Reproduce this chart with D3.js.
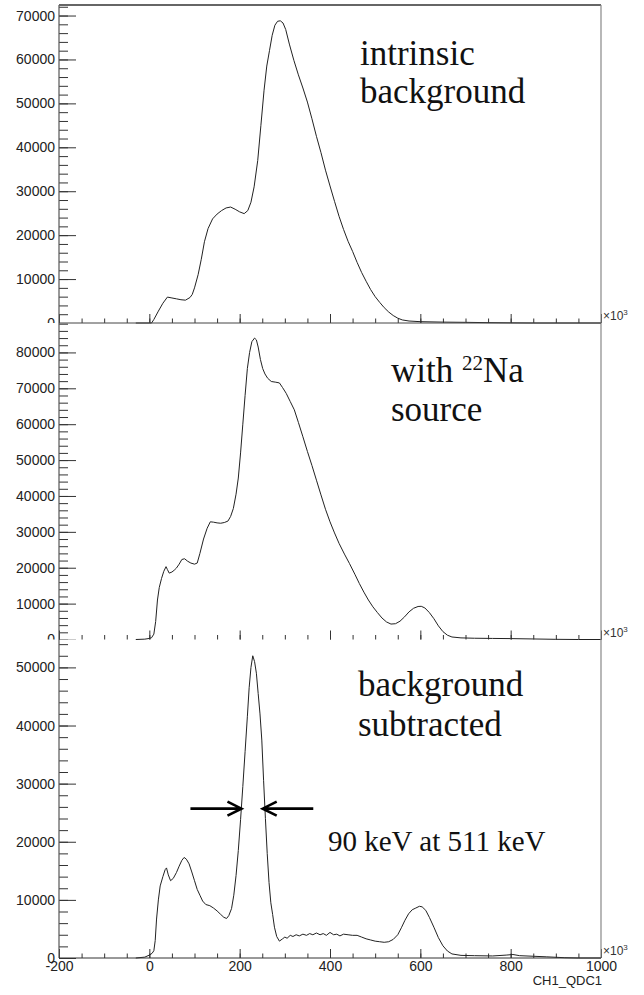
<!DOCTYPE html>
<html>
<head>
<meta charset="utf-8">
<script src="https://cdnjs.cloudflare.com/ajax/libs/d3/7.8.5/d3.min.js"></script>
<style>
  body { margin: 0; background: #fff; }
  .tick text { font-family: "Liberation Sans", Arial, sans-serif; font-size: 14px; fill: #222; }
  .tick line { stroke: #333; }
</style>
</head>
<body>
<div id="chart"></div>
<script>
// [QDC channel (x10^3), counts]
const intrinsic = [
  [-30,0],[0,0],[5,0],[10,800],[20,2700],[30,4500],[40,5900],[50,5700],[60,5500],[70,5300],[80,5200],
  [90,5800],[95,6500],[100,8000],[108,11000],[115,14500],[122,18500],[130,21500],[140,23700],[150,24800],
  [160,25600],[170,26200],[180,26400],[190,25900],[200,25300],[210,24900],[218,25600],[225,27500],
  [232,31000],[240,37000],[247,45000],[254,53000],[260,58500],[266,62000],[272,65500],[278,67800],
  [284,68700],[290,68800],[296,68300],[302,66800],[310,63500],[320,59800],[330,56500],[340,53500],
  [350,50300],[360,46500],[370,42500],[380,38800],[390,34800],[400,31200],[410,27700],[420,24300],
  [430,21300],[440,18600],[450,16300],[460,13800],[470,11500],[480,9500],[490,7600],[500,6000],
  [510,4700],[520,3500],[530,2500],[540,1700],[550,1100],[560,700],[575,450],[600,300],[650,200],
  [700,150],[750,80],[800,30],[850,0],[1000,0]
];
const withSource = [
  [-30,0],[-10,100],[0,300],[5,500],[10,1500],[14,5000],[18,11000],[22,14500],[27,17000],[32,19000],
  [37,20300],[40,19500],[44,18500],[50,18800],[55,19300],[60,19900],[66,21000],[72,22300],[78,22500],
  [85,21800],[92,21300],[100,21000],[106,21300],[112,24000],[120,28000],[128,31000],[135,32800],
  [142,32700],[150,32500],[158,32400],[166,32600],[174,33000],[180,34300],[186,36500],[192,40500],
  [197,45000],[202,52000],[207,60000],[212,68000],[217,75500],[222,80000],[227,83000],[233,84000],
  [237,83500],[241,81500],[246,78000],[251,75500],[256,74000],[262,72800],[270,71900],[280,71700],
  [288,71500],[295,70200],[303,68600],[312,66300],[321,64000],[330,60500],[340,56500],[350,52400],
  [360,48500],[370,44400],[380,40300],[390,36300],[400,32800],[410,29700],[420,26800],[432,23800],
  [443,21200],[455,18200],[465,15600],[475,13200],[485,11000],[495,9100],[505,7500],[515,6000],
  [525,4900],[535,4300],[545,4400],[555,5100],[565,6300],[575,7700],[585,8700],[595,9200],[602,9250],
  [610,8800],[620,7500],[630,5800],[640,3800],[650,2200],[660,1200],[670,700],[690,450],[720,350],
  [760,300],[800,250],[850,150],[900,50],[950,0],[1000,0]
];
const subtracted = [
  [-30,0],[-10,150],[0,500],[6,800],[10,1250],[13,3000],[16,6700],[20,10000],[24,12400],[30,14000],
  [35,15200],[38,15500],[42,14300],[47,13300],[53,13700],[60,14700],[66,15800],[72,16800],[77,17300],
  [82,17000],[88,16200],[94,14800],[100,13300],[106,11800],[112,10800],[118,9800],[125,9200],[134,9000],
  [142,8600],[150,8100],[158,7500],[165,7000],[171,6800],[176,7300],[182,8500],[187,10800],[192,14200],
  [197,18500],[202,23800],[207,29500],[212,35500],[217,41500],[221,46500],[225,50000],[229,52000],
  [233,51000],[237,49000],[241,45500],[245,42000],[249,37500],[253,30500],[257,24000],[261,18000],
  [265,13000],[269,9500],[273,7500],[277,5300],[282,3700],[288,2900],[295,3300],[300,3600],[305,3400],
  [312,3900],[318,3700],[325,4000],[332,3800],[340,4100],[348,3900],[355,4200],[362,4000],[370,4300],
  [378,4000],[385,4200],[392,3900],[400,4400],[408,4000],[415,4100],[422,3800],[430,4100],[440,4000],
  [450,3900],[460,3900],[470,3600],[480,3300],[490,3100],[500,2900],[510,2800],[520,2700],[530,2800],
  [540,3200],[550,4000],[558,5200],[566,6500],[574,7600],[582,8300],[590,8600],[598,8900],[604,8800],
  [612,8200],[620,7000],[630,5300],[640,3500],[650,2100],[660,1200],[670,700],[690,450],[720,400],
  [760,350],[790,500],[805,600],[820,400],[850,300],[880,200],[920,50],[950,0],[1000,0]
];

const series = [intrinsic, withSource, subtracted];
const yMax = [72400, 88200, 54800];
const xMajorTicks = [-200, 0, 200, 400, 600, 800, 1000];
const xTitle = "CH1_QDC1";
const fwhmLevel = 25700;          // counts, half of the 511 keV peak
const fwhmArrows = [[91, 204], [363, 251]];  // [tail, head] in QDC units
const fwhmText = "90 keV at 511 keV";

const width = 644, height = 995;
const bands = [[5, 323], [323, 639.5], [639.5, 958]];
const plotLeft = 59, plotRight = 601;

const svg = d3.select("#chart").append("svg")
  .attr("width", width)
  .attr("height", height);

const x = d3.scaleLinear().domain([-200, 1000]).range([plotLeft, plotRight]);

const line = (y) => d3.line().x(d => x(d[0])).y(d => y(d[1]));
const serif = '"Liberation Serif", "Times New Roman", serif';
const sans = '"Liberation Sans", Arial, sans-serif';

const yScales = [];

series.forEach((data, i) => {
  const [top, bottom] = bands[i];
  const y = d3.scaleLinear().domain([0, yMax[i]]).range([bottom, top]);
  yScales.push(y);
  const g = svg.append("g");

  // clip so that the "0" label is cut by the panel below (coords are in the axis group's frame)
  const clipId = "clip" + i;
  svg.append("clipPath").attr("id", clipId)
    .append("rect")
    .attr("x", -plotLeft).attr("y", top - 12)
    .attr("width", plotLeft + 30)
    .attr("height", (i < 2 ? bottom : height) - top + 12);

  // x ticks (minor every 50, major every 200), pointing up
  g.append("g")
    .attr("transform", `translate(0,${bottom})`)
    .call(d3.axisBottom(x).tickValues(d3.range(-200, 1001, 50)).tickSize(-4.5).tickFormat(""))
    .call(a => a.select(".domain").remove());
  g.append("g")
    .attr("transform", `translate(0,${bottom})`)
    .call(d3.axisBottom(x).tickValues(xMajorTicks).tickSize(-9).tickPadding(3)
      .tickFormat(i === 2 ? (d => String(d)) : ""))
    .call(a => a.select(".domain").remove());

  // y ticks (minor every 2000, major every 10000), pointing right
  const ya = g.append("g")
    .attr("transform", `translate(${plotLeft},0)`)
    .attr("clip-path", `url(#${clipId})`);
  ya.append("g")
    .call(d3.axisLeft(y).tickValues(d3.range(0, yMax[i], 2000)).tickSize(-9).tickFormat(""))
    .call(a => a.select(".domain").remove());
  ya.append("g")
    .call(d3.axisLeft(y).tickValues(d3.range(0, yMax[i], 10000)).tickSize(-17).tickPadding(4)
      .tickFormat(d => String(d)))
    .call(a => a.select(".domain").remove());

  // spectrum
  g.append("path")
    .datum(data)
    .attr("d", line(y))
    .attr("fill", "none")
    .attr("stroke", "#222")
    .attr("stroke-width", 1);

  // x10^3 multiplier
  const m = svg.append("text")
    .attr("x", plotRight + 2)
    .attr("y", bottom - 3)
    .attr("font-family", sans)
    .attr("font-size", 12)
    .attr("fill", "#333")
    .text("\u00d710");
  m.append("tspan").attr("dy", -5).attr("font-size", 8).text("3");
});

// frame
const frame = svg.append("g").attr("fill", "none");
frame.append("line").attr("x1", plotLeft).attr("x2", plotLeft).attr("y1", 5).attr("y2", 958)
  .attr("stroke", "#555").attr("stroke-width", 1.2);
frame.append("line").attr("x1", plotLeft).attr("x2", plotRight).attr("y1", 5).attr("y2", 5)
  .attr("stroke", "#666").attr("stroke-width", 2);
frame.append("line").attr("x1", plotRight).attr("x2", plotRight).attr("y1", 5).attr("y2", 958)
  .attr("stroke", "#888").attr("stroke-width", 1.2);
frame.append("line").attr("x1", plotLeft).attr("x2", plotRight).attr("y1", 323).attr("y2", 323)
  .attr("stroke", "#444").attr("stroke-width", 1);
frame.append("line").attr("x1", plotLeft).attr("x2", plotRight).attr("y1", 958).attr("y2", 958)
  .attr("stroke", "#333").attr("stroke-width", 1);

// axis title
svg.append("text")
  .attr("x", plotRight + 1).attr("y", 985)
  .attr("text-anchor", "end")
  .attr("font-family", sans).attr("font-size", 13).attr("fill", "#222")
  .text(xTitle);

// panel captions
function caption(xp, yp, text, size) {
  return svg.append("text")
    .attr("x", xp).attr("y", yp)
    .attr("font-family", serif).attr("font-size", size).attr("fill", "#111")
    .text(text);
}
caption(360, 65, "intrinsic", 35);
caption(360, 103, "background", 35);
const na = caption(391, 382, "with ", 35);
na.append("tspan").attr("font-size", 21).attr("dy", -12).text("22");
na.append("tspan").attr("dy", 12).text("Na");
caption(391, 421, "source", 35);
caption(358, 696, "background", 35);
caption(358, 736, "subtracted", 35);
caption(328, 851, fwhmText, 29);

// FWHM arrows on the 511 keV peak
const y3 = yScales[2];
const ay = y3(fwhmLevel);
fwhmArrows.forEach(([tail, head]) => {
  const x0 = x(tail), x1 = x(head);
  const dir = Math.sign(x1 - x0);
  svg.append("path")
    .attr("d", `M${x0},${ay}H${x1}M${x1 - dir * 14},${ay - 7}L${x1},${ay}L${x1 - dir * 14},${ay + 7}`)
    .attr("fill", "none")
    .attr("stroke", "#000")
    .attr("stroke-width", 2.6);
});
</script>
</body>
</html>
